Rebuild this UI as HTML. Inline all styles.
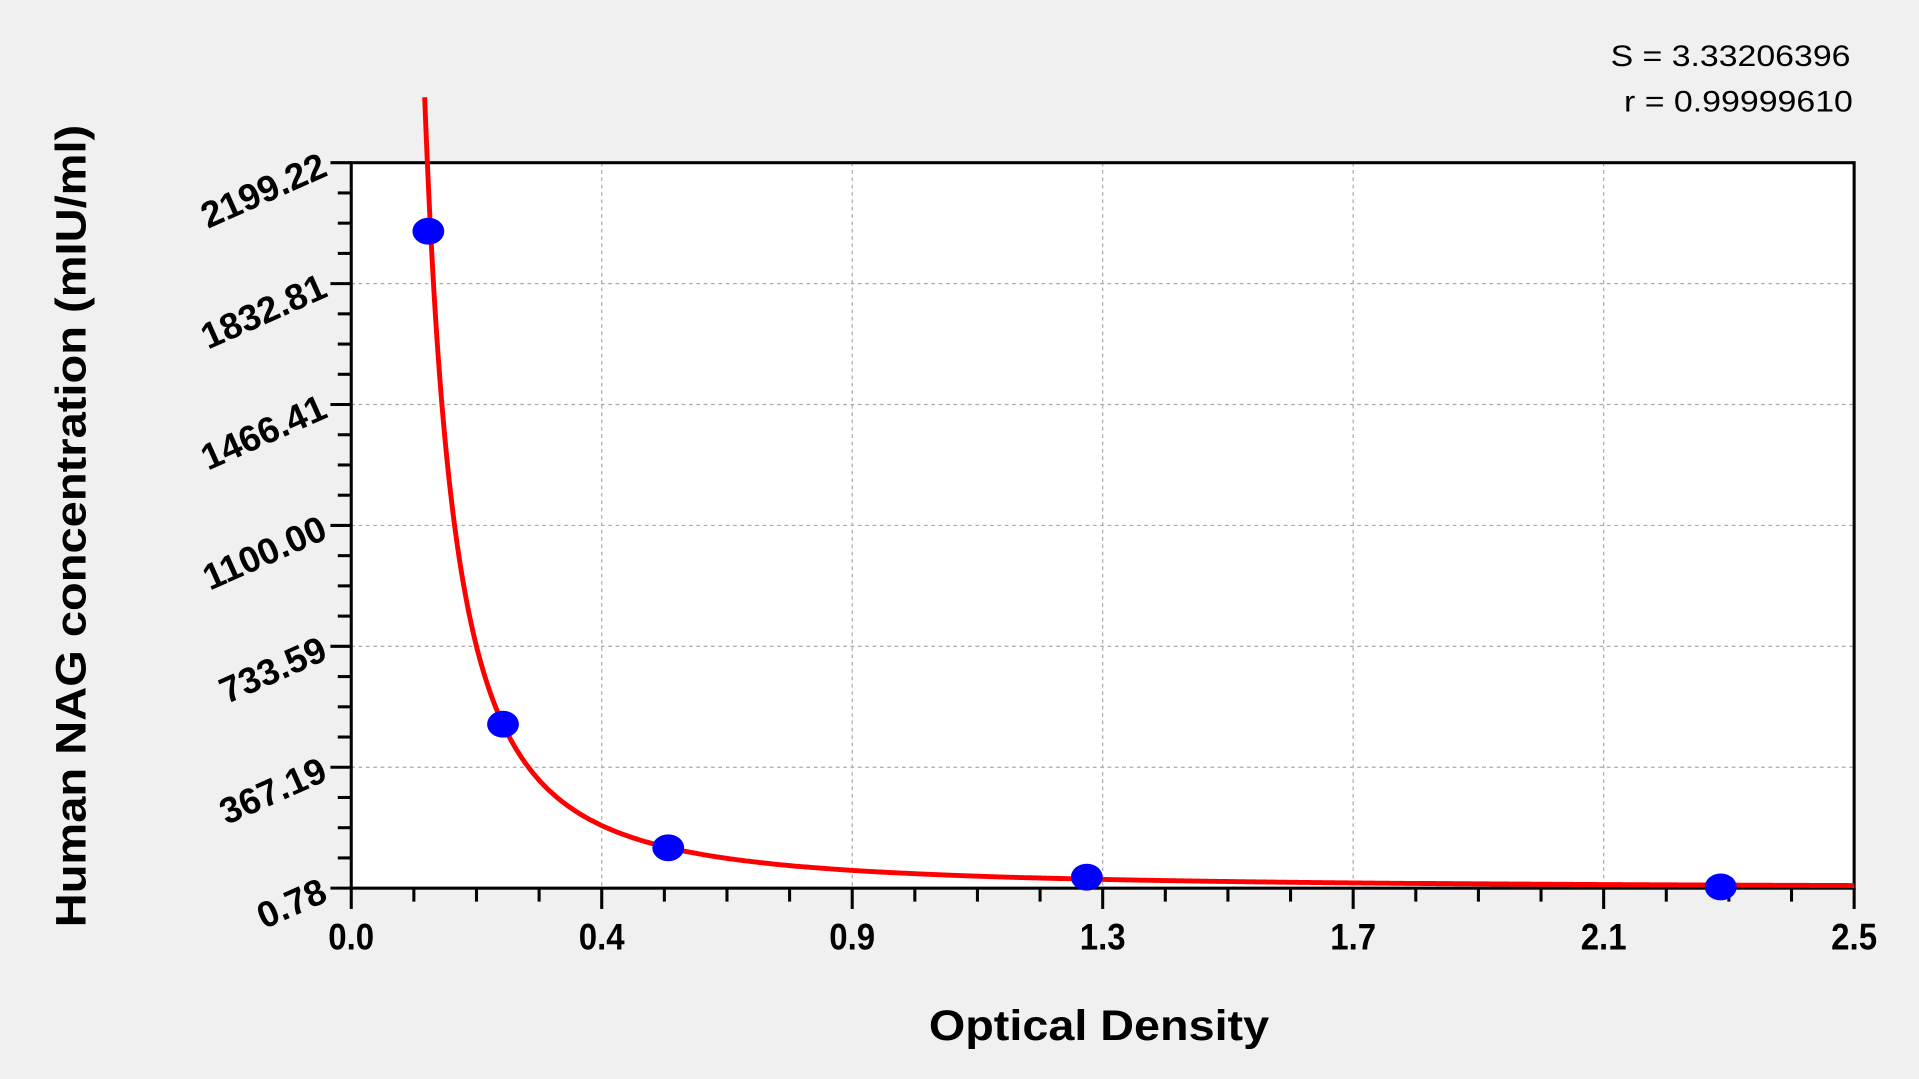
<!DOCTYPE html>
<html><head><meta charset="utf-8"><style>
html,body{margin:0;padding:0;background:#f0f0f0;}
svg{display:block;}
text{font-family:"Liberation Sans",Arial,sans-serif;}
</style></head><body>
<svg id="s" width="1919" height="1079" viewBox="0 0 1568 882" preserveAspectRatio="none" xmlns="http://www.w3.org/2000/svg">
<rect x="0" y="0" width="1568" height="882" fill="#f0f0f0"/>
<rect x="287" y="133" width="1228" height="593" fill="#fff"/>
<g id="grid" stroke="#aaa" stroke-width="1" stroke-dasharray="3,3"></g>
<g id="ticks" stroke="#000" stroke-width="2.5"></g>
<rect x="287" y="133" width="1228" height="593" fill="none" stroke="#000" stroke-width="2.5"/>
<path id="curve" fill="none" stroke="#ff0000" stroke-width="4" stroke-linejoin="round"/>
<g fill="#0000ff">
<ellipse cx="350" cy="189" rx="13" ry="11"/>
<ellipse cx="411" cy="592" rx="13" ry="11"/>
<ellipse cx="546" cy="693" rx="13" ry="11"/>
<ellipse cx="888" cy="717" rx="13" ry="11"/>
<ellipse cx="1406" cy="725" rx="13" ry="11"/>
</g>
<g id="labels" font-weight="bold" font-size="30" fill="#000"></g>
<text x="898" y="850" text-anchor="middle" font-weight="bold" font-size="35" textLength="278" lengthAdjust="spacingAndGlyphs">Optical Density</text>
<text transform="translate(70,430) rotate(-90)" text-anchor="middle" font-weight="bold" font-size="35" textLength="656" lengthAdjust="spacingAndGlyphs">Human NAG concentration (mIU/ml)</text>
<text x="1512" y="54" text-anchor="end" font-size="24" textLength="196" lengthAdjust="spacingAndGlyphs">S = 3.33206396</text>
<text x="1514" y="91" text-anchor="end" font-size="24" textLength="187" lengthAdjust="spacingAndGlyphs">r = 0.99999610</text>
</svg>
<script>
var ns="http://www.w3.org/2000/svg";
function el(p,t,a,txt){var e=document.createElementNS(ns,t);for(var k in a)e.setAttribute(k,a[k]);if(txt)e.textContent=txt;document.getElementById(p).appendChild(e);}
var L=287,R=1515,T=133,B=726;
var xl=["0.0","0.4","0.9","1.3","1.7","2.1","2.5"];
var yl=["0.78","367.19","733.59","1100.00","1466.41","1832.81","2199.22"];
var dx=(R-L)/6, dy=(B-T)/6;
for(var i=0;i<=6;i++){
 var x=L+i*dx, y=B-i*dy;
 if(i>0&&i<6){el("grid","line",{x1:x,y1:T,x2:x,y2:B});el("grid","line",{x1:L,y1:y,x2:R,y2:y});}
 el("ticks","line",{x1:x,y1:B,x2:x,y2:B+17});
 el("ticks","line",{x1:L-17,y1:y,x2:L,y2:y});
 if(i<6)for(var j=1;j<4;j++){
  el("ticks","line",{x1:x+j*dx/4,y1:B,x2:x+j*dx/4,y2:B+11});
  el("ticks","line",{x1:L-11,y1:y-j*dy/4,x2:L,y2:y-j*dy/4});
 }
 el("labels","text",{x:x,y:B+50,"text-anchor":"middle","font-size":"30",textLength:xl[i].length*12.5,lengthAdjust:"spacingAndGlyphs"},xl[i]);
 el("labels","text",{transform:"translate("+(L-18)+","+(y+10)+") rotate(-24)","text-anchor":"end"},yl[i]);
}
var d="";
for(var x=346;x<=1515;x+=1){
 var v=134*Math.pow(106/(x-305),1.7);
 var yy=B-v; if(yy<70)continue;
 d+=(d?"L":"M")+x+","+yy.toFixed(1);
}
document.getElementById("curve").setAttribute("d",d);
</script>
</body></html>
